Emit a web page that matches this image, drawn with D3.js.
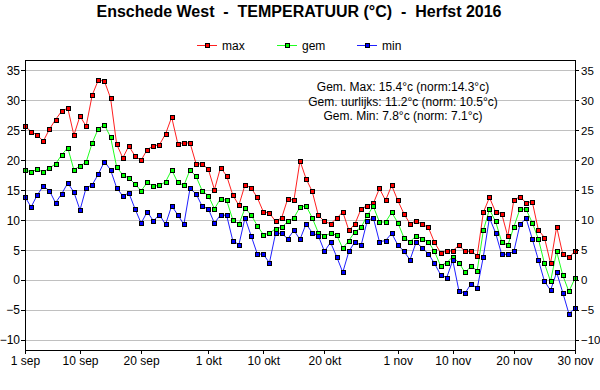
<!DOCTYPE html>
<html><head><meta charset="utf-8">
<script src="https://cdn.jsdelivr.net/npm/d3@7"></script>
<style>
html,body{margin:0;padding:0;background:#fff;}
svg text{font-family:Arial,"Liberation Sans",sans-serif;}
</style></head>
<body>
<svg id="c" width="600" height="390"></svg>
<script>
const maxT = [25.7,24.8,24.2,23.2,25.2,26.8,28.2,28.7,24.2,27.4,25.7,30.9,33.4,33.2,30.4,22.7,20.4,22.4,20.7,20.0,
 21.8,22.4,22.6,24.4,27.2,22.8,22.9,22.9,19.4,19.4,
 18.5,15.1,18.8,17.4,14.2,12.5,15.9,15.4,13.8,11.4,
 11.2,9.8,10.4,13.6,13.3,19.9,16.9,14.8,10.8,9.8,
 9.4,10.3,11.4,8.3,9.4,11.9,12.4,12.8,15.3,13.3,
 15.8,13.3,11.1,9.4,9.9,9.3,8.8,6.3,4.6,4.8,
 4.9,5.8,4.8,4.8,4.1,11.3,13.8,11.4,11.1,7.3,
 13.4,13.9,12.9,13.1,8.4,7.1,2.8,8.9,4.3,3.8,4.8];
const gemT = [18.4,18.05,18.5,18.05,18.7,19.4,20.9,22.1,18.4,19.05,19.7,22.9,25.3,25.9,23.9,18.9,17.55,17.05,16.05,14.9,
 16.3,15.7,15.8,16.4,18.4,16.3,15.8,18.4,17.3,14.9,
 14.1,11.9,13.6,13.3,10.1,9.3,12.0,10.9,9.1,7.6,
 7.8,8.6,8.8,9.8,10.4,12.2,12.4,10.4,7.9,7.4,
 7.8,7.5,5.3,6.6,8.1,8.8,10.8,12.3,9.7,9.7,
 11.3,9.6,7.1,6.4,7.4,6.9,6.4,4.8,2.4,2.9,
 3.9,2.9,1.3,2.3,1.6,8.3,11.8,9.8,6.4,5.8,
 8.9,11.9,11.8,9.6,6.9,2.8,-0.2,4.8,0.8,-1.9,0.3];
const minT = [13.9,12.2,14.2,15.7,14.9,12.9,14.4,16.2,14.7,11.7,15.4,15.9,17.7,19.8,18.4,15.4,14.05,14.55,11.9,9.5,
 11.4,9.9,10.9,9.3,12.4,10.9,9.3,15.3,14.4,12.3,
 11.9,9.5,10.9,10.8,6.6,5.9,10.4,7.4,4.4,4.3,
 2.9,7.8,7.8,6.9,8.3,6.8,9.4,7.9,7.4,4.8,
 6.3,3.9,1.3,4.8,6.4,5.8,9.9,10.4,6.4,6.6,
 7.8,5.9,4.8,3.4,6.3,5.4,4.4,2.8,0.9,0.4,
 3.3,-1.75,-2.2,-0.6,-1.4,3.9,10.4,7.9,4.3,4.3,
 4.8,9.3,10.3,6.9,3.4,-0.2,-1.7,1.3,-2.1,-5.6,-4.7];
const xTickDays = [0,9,19,30,39,49,61,70,80,90];
const xTickLabels = ["1 sep","10 sep","20 sep","1 okt","10 okt","20 okt","1 nov","10 nov","20 nov","30 nov"];
const yTicks = [-10,-5,0,5,10,15,20,25,30,35];
const seriesNames = ["max","gem","min"];
const notes = ["Gem. Max: 15.4°c (norm:14.3°c)","Gem. uurlijks: 11.2°c (norm: 10.5°c)","Gem. Min: 7.8°c (norm: 7.1°c)"];
const title = "Enschede West  -  TEMPERATUUR (°C)  -  Herfst 2016";

const lineColors = ["#ff2020","#20ff20","#2020ff"];
const fillColors = ["#ff0000","#00ff00","#0000ff"];
const series = [maxT, gemT, minT];

const svg = d3.select("#c");
const L = 25, R = 575, T = 60, B = 350;
const x = d3.scaleLinear().domain([0,90]).range([L,R]);
const y = d3.scaleLinear().domain([-11.67,36.75]).range([B,T]);

// grid
svg.append("g").selectAll("line").data(yTicks).join("line")
  .attr("x1",L).attr("x2",R)
  .attr("y1",d=>Math.round(y(d))+0.5).attr("y2",d=>Math.round(y(d))+0.5)
  .attr("stroke","#c0c0c0").attr("stroke-width",1);

// series
const line = d3.line().x((d,i)=>x(i)).y(d=>y(d));
series.forEach((s,k)=>{
  svg.append("path").datum(s).attr("d",line)
    .attr("fill","none").attr("stroke",lineColors[k]).attr("stroke-width",1);
});
series.forEach((s,k)=>{
  svg.append("g").selectAll("rect").data(s).join("rect")
    .attr("x",(d,i)=>Math.round(x(i))-2+0.5).attr("y",d=>Math.round(y(d))-2+0.5)
    .attr("width",4).attr("height",4)
    .attr("fill",fillColors[k]).attr("stroke","#000").attr("stroke-width",1);
});

// frame top
svg.append("line").attr("x1",L).attr("x2",R+1).attr("y1",T+0.5).attr("y2",T+0.5).attr("stroke","#000");

function styleAxis(g){
  g.selectAll("path,line").attr("stroke","#000").attr("shape-rendering","crispEdges");
  g.selectAll("text").attr("fill","#000").style("font-size","12px").style("font-family","Arial,'Liberation Sans',sans-serif");
}
const yl = svg.append("g").attr("transform",`translate(${L},0)`)
  .call(d3.axisLeft(y).tickValues(yTicks).tickSize(4).tickSizeOuter(0).tickPadding(1));
styleAxis(yl);
const yr = svg.append("g").attr("transform",`translate(${R},0)`)
  .call(d3.axisRight(y).tickValues(yTicks).tickSize(4).tickSizeOuter(0).tickPadding(2));
styleAxis(yr);
yr.selectAll("text").style("font-size","11.5px");
const xb = svg.append("g").attr("transform",`translate(0,${B})`)
  .call(d3.axisBottom(x).tickValues(xTickDays).tickFormat((d,i)=>xTickLabels[i]).tickSize(4).tickSizeOuter(0).tickPadding(2));
styleAxis(xb);

// title
svg.append("text").attr("x",299).attr("y",17).attr("text-anchor","middle")
  .style("font-size","16px").style("font-weight","bold").attr("fill","#000")
  .attr("xml:space","preserve").style("white-space","pre").text(title);

// legend
const legX = [197,277,357];
seriesNames.forEach((n,k)=>{
  const g = svg.append("g");
  g.append("line").attr("x1",legX[k]).attr("x2",legX[k]+20).attr("y1",45.5).attr("y2",45.5)
    .attr("stroke",lineColors[k]);
  g.append("rect").attr("x",legX[k]+8.5).attr("y",43.5).attr("width",4).attr("height",4)
    .attr("fill",fillColors[k]).attr("stroke","#000");
  g.append("text").attr("x",legX[k]+25).attr("y",49.5).style("font-size","12px").attr("fill","#000").text(n);
});

// notes
notes.forEach((t,i)=>{
  svg.append("text").attr("x",403).attr("y",91+i*14.7).attr("text-anchor","middle")
    .style("font-size","12px").attr("fill","#000").text(t);
});
</script>
</body></html>
